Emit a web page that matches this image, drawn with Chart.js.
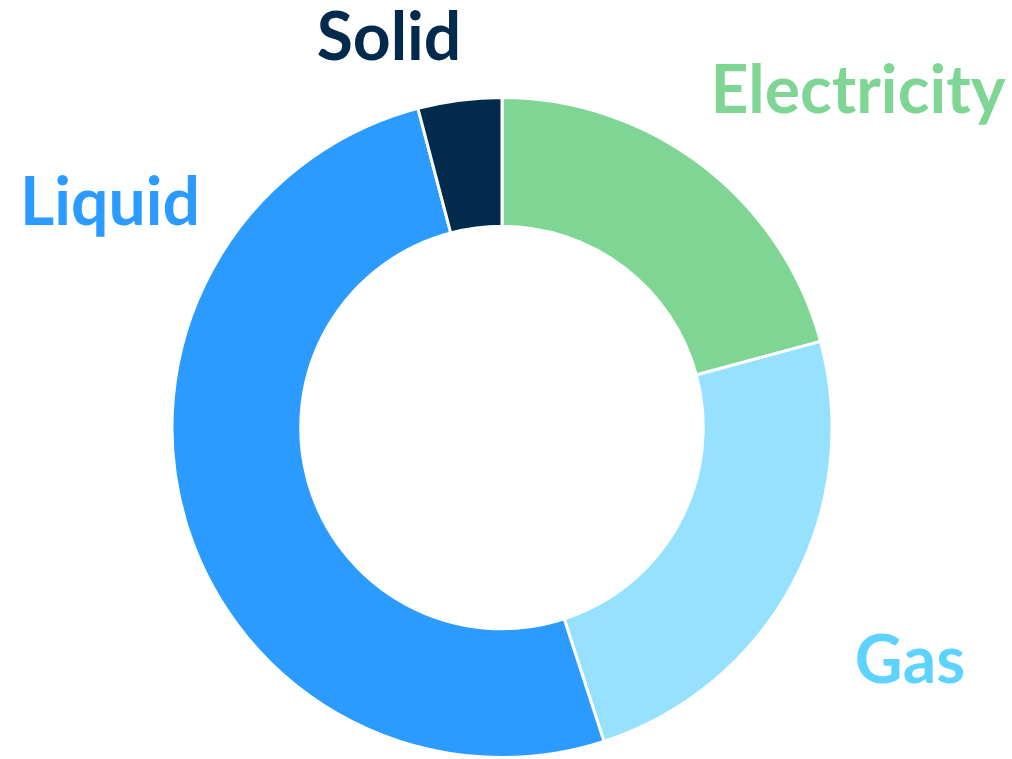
<!DOCTYPE html>
<html>
<head>
<meta charset="utf-8">
<script src="https://cdn.jsdelivr.net/npm/chart.js@4"></script>
<style>
  html, body { margin: 0; padding: 0; background: #fff; }
  #wrap { width: 1012px; height: 759px; }
</style>
</head>
<body>
<div id="wrap"><canvas id="energyChart"></canvas></div>
<script>
const categories = ['Electricity', 'Gas', 'Liquid', 'Solid'];
const shares = [20.8, 24.2, 50.9, 4.1];
const sliceColors = ['#7fd694', '#96e1ff', '#2b9bff', '#022a4d'];
const labelColors = ['#7fd694', '#5fd3ff', '#2b9bff', '#022a4d'];

// where each category name sits (text centre x, baseline y)
const labelSpots = [[858, 113], [910, 683], [110, 225], [389, 60]];

const outsideLabels = {
    id: 'outsideLabels',
    afterDraw(chart) {
        const c = chart.ctx;
        c.save();
        c.font = 'bold 66px Lato, "Open Sans", sans-serif';
        c.textAlign = 'center';
        c.textBaseline = 'alphabetic';
        categories.forEach((name, i) => {
            c.fillStyle = labelColors[i];
            c.fillText(name, labelSpots[i][0], labelSpots[i][1]);
        });
        c.restore();
    }
};

const ctx = document.getElementById('energyChart').getContext('2d');
const energyChart = new Chart(ctx, {
    type: 'doughnut',
    data: {
        labels: categories,
        datasets: [{
            data: shares,
            backgroundColor: sliceColors,
            borderColor: '#ffffff',
            borderWidth: 3
        }]
    },
    options: {
        responsive: true,
        maintainAspectRatio: false,
        animation: false,
        cutout: '61%',
        layout: { padding: { top: 96, bottom: 0, left: 0, right: 8 } },
        plugins: {
            legend: { display: false },
            tooltip: { enabled: false }
        }
    },
    plugins: [outsideLabels]
});
</script>
</body>
</html>
